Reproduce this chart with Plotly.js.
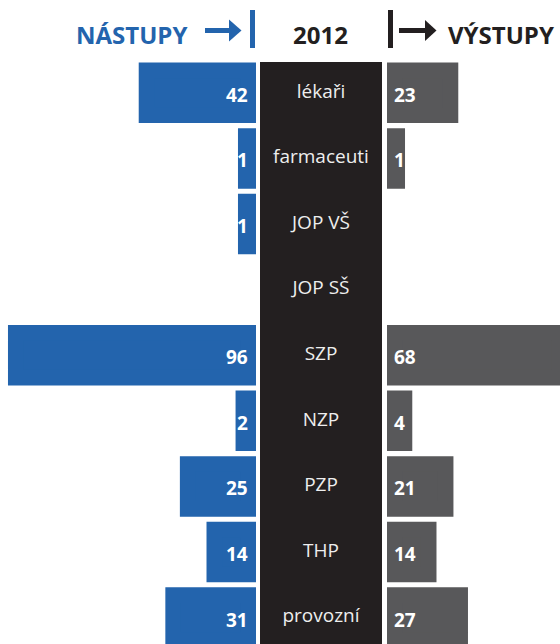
<!DOCTYPE html>
<html>
<head>
<meta charset="utf-8">
<script src="https://cdn.plot.ly/plotly-3.0.1.min.js"></script>
<style>
html,body{margin:0;padding:0;background:#fff;}
#chart{width:560px;height:644px;}
</style>
</head>
<body>
<div id="chart"></div>
<script>
// ---- data ----
const categories = ['lékaři', 'farmaceuti', 'JOP VŠ', 'JOP SŠ', 'SZP', 'NZP', 'PZP', 'THP', 'provozní'];
const nastupy = [42, 1, 1, 0, 96, 2, 25, 14, 31];
const vystupy = [23, 1, 0, 0, 68, 4, 21, 14, 27];
const titleLeft = 'NÁSTUPY';
const titleMid = '2012';
const titleRight = 'VÝSTUPY';

// ---- layout constants ----
const W = 560, H = 644;
const BLUE = '#2364ad', GRAY = '#58585a', DARK = '#231f20', LIGHT = '#eeeeee';
const FONT = 'Open Sans';
const K = 2.421;          // pixels per unit
const STUB = 15.6;        // bar outline width (gives every non-empty bar a label stub)
const leftEdge = 256, rightEdge = 387, colL = 260, colR = 382, topPx = 60;
const rowPitch = 65.6;
const px = x => x / W, py = y => 1 - y / H;

const plotH = H - topPx;
const yRange = [-0.5 + plotH / rowPitch, -0.5];
const leftRange = [(leftEdge - STUB / 2) / K, -(STUB / 2) / K];
const rightRange = [-(STUB / 2) / K, (W - rightEdge - STUB / 2) / K];
const barGap = 1 - (60.5 - STUB) / rowPitch;
const stubWidths = vals => vals.map(v => (v > 0 ? STUB : 0));

const traces = [
  {
    type: 'bar', orientation: 'h', name: titleLeft,
    x: nastupy, y: categories, xaxis: 'x', yaxis: 'y',
    marker: {color: BLUE, line: {color: BLUE, width: stubWidths(nastupy)}},
    hoverinfo: 'skip'
  },
  {
    type: 'bar', orientation: 'h', name: titleRight,
    x: vystupy, y: categories, xaxis: 'x2', yaxis: 'y',
    marker: {color: GRAY, line: {color: GRAY, width: stubWidths(vystupy)}},
    hoverinfo: 'skip'
  },
  {
    type: 'scatter', mode: 'text',
    x: categories.map(() => 0), y: categories, xaxis: 'x3', yaxis: 'y',
    text: categories, textposition: 'middle center',
    textfont: {family: FONT, size: 19, color: LIGHT},
    hoverinfo: 'skip', cliponaxis: false
  }
];

const annotations = [];
categories.forEach((c, i) => {
  if (nastupy[i] > 0) annotations.push({
    xref: 'x', yref: 'y', x: 0, y: c, text: String(nastupy[i]),
    xanchor: 'right', yanchor: 'middle', xshift: 2, yshift: -2, showarrow: false,
    font: {family: FONT, size: 19, color: '#ffffff', weight: 700}
  });
  if (vystupy[i] > 0) annotations.push({
    xref: 'x2', yref: 'y', x: 0, y: c, text: String(vystupy[i]),
    xanchor: 'left', yanchor: 'middle', xshift: -3, yshift: -2, showarrow: false,
    font: {family: FONT, size: 19, color: '#ffffff', weight: 700}
  });
});
const headFont = (color) => ({family: FONT, size: 24, color: color, weight: 700});
annotations.push(
  {xref: 'paper', yref: 'paper', x: px(189), y: py(34), text: titleLeft, xanchor: 'right', yanchor: 'middle', showarrow: false, font: headFont(BLUE)},
  {xref: 'paper', yref: 'paper', x: px(320), y: py(34), text: titleMid, xanchor: 'center', yanchor: 'middle', showarrow: false, font: headFont(DARK)},
  {xref: 'paper', yref: 'paper', x: px(446), y: py(34), text: titleRight, xanchor: 'left', yanchor: 'middle', showarrow: false, font: headFont(DARK)}
);

const tri = (x0, x1, yc, h) => `M ${px(x0)},${py(yc - h / 2)} L ${px(x1)},${py(yc)} L ${px(x0)},${py(yc + h / 2)} Z`;
const arrowY = 30.5;
const shapes = [
  // central dark column
  {type: 'rect', xref: 'paper', yref: 'paper', x0: px(colL), x1: px(colR), y0: 0, y1: py(62), fillcolor: DARK, line: {width: 0}, layer: 'below'},
  // left marker bar + arrow
  {type: 'rect', xref: 'paper', yref: 'paper', x0: px(250), x1: px(255), y0: py(48), y1: py(10), fillcolor: BLUE, line: {width: 0}},
  {type: 'rect', xref: 'paper', yref: 'paper', x0: px(205), x1: px(230), y0: py(arrowY + 2.5), y1: py(arrowY - 2.5), fillcolor: BLUE, line: {width: 0}},
  {type: 'path', xref: 'paper', yref: 'paper', path: tri(229, 241.5, arrowY, 22), fillcolor: BLUE, line: {width: 0}},
  // right marker bar + arrow
  {type: 'rect', xref: 'paper', yref: 'paper', x0: px(388), x1: px(393), y0: py(48), y1: py(10), fillcolor: DARK, line: {width: 0}},
  {type: 'rect', xref: 'paper', yref: 'paper', x0: px(399), x1: px(426), y0: py(arrowY + 2.5), y1: py(arrowY - 2.5), fillcolor: DARK, line: {width: 0}},
  {type: 'path', xref: 'paper', yref: 'paper', path: tri(425, 436.5, arrowY, 21), fillcolor: DARK, line: {width: 0}}
];

const hidden = {visible: false, showgrid: false, zeroline: false, fixedrange: true};
const layout = {
  width: W, height: H,
  margin: {l: 0, r: 0, t: 0, b: 0, pad: 0},
  paper_bgcolor: '#ffffff', plot_bgcolor: 'rgba(0,0,0,0)',
  showlegend: false, bargap: barGap,
  font: {family: FONT},
  xaxis: Object.assign({}, hidden, {domain: [0, px(leftEdge)], range: leftRange, anchor: 'y'}),
  xaxis2: Object.assign({}, hidden, {domain: [px(rightEdge), 1], range: rightRange, anchor: 'y'}),
  xaxis3: Object.assign({}, hidden, {domain: [px(colL), px(colR)], range: [-1, 1], anchor: 'y'}),
  yaxis: Object.assign({}, hidden, {type: 'category', categoryorder: 'array', categoryarray: categories,
    domain: [0, plotH / H], range: yRange}),
  annotations: annotations,
  shapes: shapes
};

Plotly.newPlot('chart', traces, layout, {displayModeBar: false, staticPlot: true});
</script>
</body>
</html>
